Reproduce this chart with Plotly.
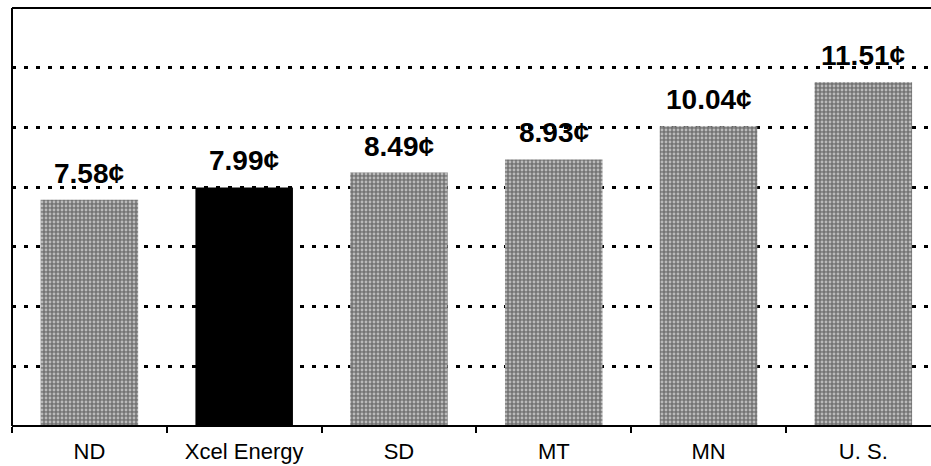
import plotly.graph_objects as go

categories = ["ND", "Xcel Energy", "SD", "MT", "MN", "U. S."]
values = [7.58, 7.99, 8.49, 8.93, 10.04, 11.51]
labels = ["7.58¢", "7.99¢", "8.49¢", "8.93¢", "10.04¢", "11.51¢"]
colors = ["#747474", "#000000", "#747474", "#747474", "#747474", "#747474"]
pattern_shapes = [".", "", ".", ".", ".", "."]

fig = go.Figure(go.Bar(
    x=categories, y=values,
    width=0.63,
    marker=dict(color=colors, line=dict(width=0),
                pattern=dict(shape=pattern_shapes, fgcolor="#262626", bgcolor=colors,
                             size=4, solidity=0.4, fillmode="overlay")),
))

for c, v, t in zip(categories, values, labels):
    fig.add_annotation(x=c, y=v, text=t, showarrow=False, yanchor="bottom", yshift=9,
                       font=dict(family="Liberation Sans, Arial", size=28, color="#000000",
                                 weight="bold"))

# frame: left, top and bottom edges of the plot area (right edge is cropped in the original)
frame_line = dict(color="#000000", width=2)
fig.add_shape(type="line", xref="paper", yref="paper", x0=0, x1=0, y0=0, y1=1, line=frame_line)
fig.add_shape(type="line", xref="paper", yref="paper", x0=0, x1=1, y0=1, y1=1, line=frame_line)
fig.add_shape(type="line", xref="paper", yref="paper", x0=0, x1=1, y0=0, y1=0, line=frame_line)

fig.update_layout(
    width=950, height=466,
    margin=dict(l=12, r=0, t=8, b=40),
    paper_bgcolor="white", plot_bgcolor="white",
    showlegend=False,
    font=dict(family="Liberation Sans, Arial", color="#000000"),
)
fig.update_xaxes(
    range=[-0.5, 5.56], showline=False,
    ticks="outside", tickson="boundaries", ticklen=6, tickwidth=1.5, tickcolor="#000000",
    tickfont=dict(size=22, family="Liberation Sans, Arial"), showgrid=False,
    ticklabelstandoff=10,
)
fig.update_yaxes(
    range=[0, 14], dtick=2, showticklabels=False, ticks="",
    showline=False,
    showgrid=True, gridcolor="#000000", gridwidth=2.5, griddash="4px,8px",
    zeroline=False,
)

fig.write_html("out.html", config={"displayModeBar": False},
               post_script="document.documentElement.style.overflow='hidden';"
                           "document.body.style.margin='0';document.body.style.overflow='hidden';")
